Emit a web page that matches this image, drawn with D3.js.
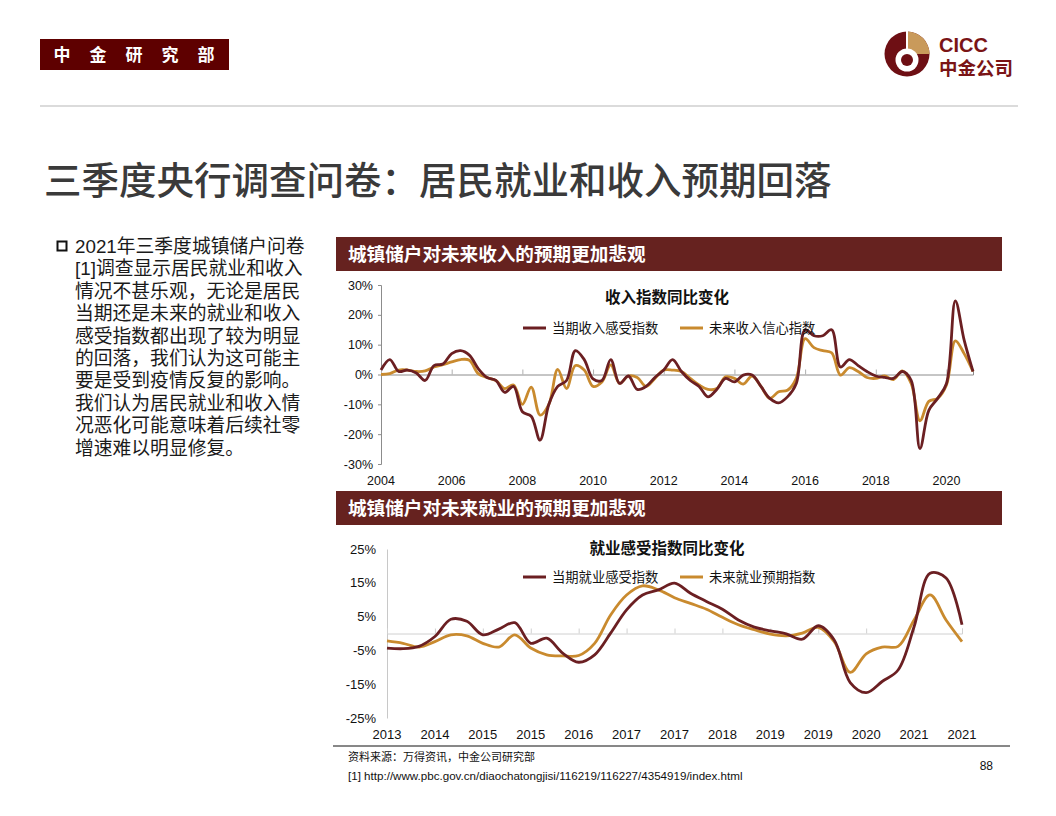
<!DOCTYPE html>
<html>
<head>
<meta charset="utf-8">
<script src="https://cdn.jsdelivr.net/npm/d3@7"></script>
<style>
  body { margin: 0; background: #fff; }
  svg { font-family: "Liberation Sans", Arial, "Noto Sans CJK SC", sans-serif; }
</style>
</head>
<body>
<svg id="page" width="1056" height="816"></svg>
<script>
// ---- datos ----
//收入：季度，2004Q1 - 2020Q4
const incomeStart = 2004;
const incomeNow = [
  1.5, 5, 1, 1.5,   0.5, -2, 3, 3.5,   7, 8, 6.5, 2,   -1, -2, -6, -4,
  -12.5, -14, -22, -10,   -4, -2, 8, 5,   -1.5, -2, 5, -3,   -0.5, -5, -4, -1,
  1.5, 5, 1, -2,   -4, -7.5, -5, -1.3,   -2.5, -0.2, -0.2, -4,   -8, -9.5, -7.5, -3,
  15, 13, 13, 15,   2.5, 5, 3, 1,   -0.5, -1, -1.3, 1,   -2, -24.8, -12, -8,
  -3, 24.7, 11.5, 1
];
const incomeFuture = [
  0, 0.3, 1.5, 1.5,   1, 1.2, 2.5, 3.3,   4.2, 5, 4.8, 0.3,   -1, -2, -4.7, -3.5,
  -10, -4.2, -13.6, -10,   1.7, -4.7, 3, 1.5,   -4, -2.5, 3.2, -3,   -0.5, -1, -4, -1.3,
  1.5, 1.5, 1, -1.3,   -3.5, -5, -4.7, -0.8,   -1.3, -3.2, -0.5, -4,   -8, -5.8, -5.3, -1.3,
  12, 9, 8, 7.3,   -0.2, 2.3, 1, -1,   -1.3, -0.5, -1.7, 1.2,   -3, -15.5, -9, -8,
  -3.5, 11.3, 7, 1
];
const incomeYears = [2004, 2006, 2008, 2010, 2012, 2014, 2016, 2018, 2020];
const incomeTicks = [-30, -20, -10, 0, 10, 20, 30];

// 就业：季度
const jobNow = [
  -4.3, -4.5, -3.8, -0.9, 4.2, 3.6, -0.4, 1.3, 3.2, -2.9, -1.4, -5.8, -8.5,
  -6.3, 0.1, 7, 11.4, 12.9, 14.9, 11.9, 9.5, 7.2, 4, 1.9, 0.8, -0.1, -1.7,
  2.3, -1.9, -14.5, -17.5, -14.2, -10.8, 2, 17.8, 16.4, 2.6
];
const jobFuture = [
  -2.2, -2.9, -4, -2.4, -0.4, -0.7, -2.9, -4, -0.4, -4.3, -6.3, -6.6, -6.5,
  -2.9, 5.5, 11.4, 14.1, 12.9, 10.6, 8.9, 7.2, 4.8, 2.6, 1.1, -0.2, -0.7, 0.1,
  1.8, -2.4, -11.5, -6, -4, -3.8, 4, 11.4, 4, -2.4
];
const jobLabels = ["2013", "2014", "2015", "2015", "2016", "2017", "2017",
  "2018", "2019", "2019", "2020", "2021", "2021"];
const jobTicks = [-25, -15, -5, 5, 15, 25];

const bulletLines = [
  "2021年三季度城镇储户问卷",
  "[1]调查显示居民就业和收入",
  "情况不甚乐观，无论是居民",
  "当期还是未来的就业和收入",
  "感受指数都出现了较为明显",
  "的回落，我们认为这可能主",
  "要是受到疫情反复的影响。",
  "我们认为居民就业和收入情",
  "况恶化可能意味着后续社零",
  "增速难以明显修复。"
];

const darkRed = "#6b1f22";
const gold = "#c98a2e";
const barRed = "#66221f";

const svg = d3.select("#page");

// ---- cabecera ----
svg.append("rect").attr("x", 40).attr("y", 39).attr("width", 189).attr("height", 31).attr("fill", "#5e0000");
["中", "金", "研", "究", "部"].forEach((c, i) => {
    svg.append("text")
        .attr("x", 62 + i * 36).attr("y", 61)
        .attr("text-anchor", "middle")
        .attr("fill", "#fff").attr("font-size", 17).attr("font-weight", "bold")
        .attr("font-family", "Noto Sans CJK SC")
        .text(c);
});

// logo
const logo = svg.append("g").attr("transform", "translate(907,54)");
logo.append("circle").attr("r", 22.5).attr("fill", "#6e0f14");
logo.append("path")
    .attr("d", d3.arc().innerRadius(0).outerRadius(22.5).startAngle(0).endAngle(Math.PI / 2)())
    .attr("fill", "#c99a5b");
logo.append("line").attr("x1", 0).attr("y1", -23).attr("x2", 0).attr("y2", 0)
    .attr("stroke", "#fff").attr("stroke-width", 2);
logo.append("circle").attr("cy", 6).attr("r", 11.5).attr("fill", "#fff");
logo.append("circle").attr("cy", 6).attr("r", 6).attr("fill", "#6e0f14");
svg.append("text").attr("x", 939).attr("y", 52)
    .attr("fill", "#7a1416").attr("font-size", 20).attr("font-weight", "bold")
    .text("CICC");
svg.append("text").attr("x", 939).attr("y", 75)
    .attr("fill", "#7a1416").attr("font-size", 18.5).attr("font-weight", "bold")
    .attr("font-family", "Noto Sans CJK SC")
    .text("中金公司");

svg.append("line").attr("x1", 40).attr("x2", 1018).attr("y1", 106).attr("y2", 106)
    .attr("stroke", "#cfcfcf").attr("stroke-width", 1.5);

// titulo
svg.append("text").attr("x", 44).attr("y", 194)
    .attr("fill", "#3a3a3a").attr("font-size", 37.5).attr("font-weight", 500)
    .attr("font-family", "Noto Sans CJK SC")
    .text("三季度央行调查问卷：居民就业和收入预期回落");

// texto de la izquierda
svg.append("rect").attr("x", 57.5).attr("y", 241.5).attr("width", 9).attr("height", 9)
    .attr("fill", "none").attr("stroke", "#111").attr("stroke-width", 2);
svg.selectAll(".bullet")
    .data(bulletLines)
    .enter()
    .append("text")
    .attr("class", "bullet")
    .attr("x", 75)
    .attr("y", (d, i) => 253 + i * 22.4)
    .attr("fill", "#1a1a1a").attr("font-size", 18.8)
    .text(d => d);

// barras de titulo
function banner(y, label) {
    svg.append("rect").attr("x", 336).attr("y", y).attr("width", 666).attr("height", 34).attr("fill", barRed);
    svg.append("text").attr("x", 348).attr("y", y + 24)
        .attr("fill", "#fff").attr("font-size", 18.6).attr("font-weight", "bold")
        .attr("font-family", "Noto Sans CJK SC")
        .text(label);
}
banner(237, "城镇储户对未来收入的预期更加悲观");
banner(491, "城镇储户对未来就业的预期更加悲观");

function legend(y, names) {
    [darkRed, gold].forEach((col, i) => {
        const x0 = 523 + i * 157;
        svg.append("line").attr("x1", x0).attr("x2", x0 + 23).attr("y1", y).attr("y2", y)
            .attr("stroke", col).attr("stroke-width", 3);
        svg.append("text").attr("x", x0 + 29).attr("y", y + 5)
            .attr("font-size", 13.3).attr("fill", "#111")
            .attr("font-family", "Noto Sans CJK SC")
            .text(names[i]);
    });
}

// ---- grafico 1: ingresos ----
const x1 = d3.scaleLinear().domain([2004, 2020.75]).range([381, 973]);
const y1 = d3.scaleLinear().domain([-30, 30]).range([464, 285]);

svg.append("g")
    .attr("transform", "translate(381,0)")
    .call(d3.axisLeft(y1).tickValues(incomeTicks).tickSize(3).tickFormat(d => d + "%"))
    .call(g => g.select(".domain").attr("stroke", "#8c8c8c"))
    .call(g => g.selectAll(".tick line").attr("stroke", "#8c8c8c"))
    .call(g => g.selectAll("text").attr("font-size", 12.5).attr("fill", "#111").attr("x", -8).attr("font-family", "Liberation Sans, Arial"));

svg.append("g")
    .attr("transform", `translate(0,${y1(0)})`)
    .call(d3.axisTop(x1).tickValues(incomeYears).tickSize(5).tickFormat(""))
    .call(g => g.select(".domain").attr("stroke", "#8c8c8c"))
    .call(g => g.selectAll(".tick line").attr("stroke", "#b0b0b0"));

svg.selectAll(".xl1")
    .data(incomeYears)
    .enter()
    .append("text")
    .attr("class", "xl1")
    .attr("x", d => x1(d)).attr("y", 485)
    .attr("text-anchor", "middle").attr("font-size", 12.5).attr("fill", "#111")
    .text(d => d);

const line1 = d3.line()
    .x((d, i) => x1(incomeStart + i * 0.25))
    .y(d => y1(d))
    .curve(d3.curveCatmullRom);

svg.append("path").datum(incomeFuture).attr("d", line1)
    .attr("fill", "none").attr("stroke", gold).attr("stroke-width", 2.8);
svg.append("path").datum(incomeNow).attr("d", line1)
    .attr("fill", "none").attr("stroke", darkRed).attr("stroke-width", 2.8);

svg.append("text").attr("x", 667).attr("y", 303).attr("text-anchor", "middle")
    .attr("font-size", 15.5).attr("font-weight", "bold").attr("fill", "#111")
    .attr("font-family", "Noto Sans CJK SC")
    .text("收入指数同比变化");
legend(328, ["当期收入感受指数", "未来收入信心指数"]);

// ---- grafico 2: empleo ----
const x2 = d3.scaleLinear().domain([0, jobNow.length - 1]).range([387, 962]);
const y2 = d3.scaleLinear().domain([-25, 25]).range([718, 549]);

svg.append("g")
    .attr("transform", "translate(387,0)")
    .call(d3.axisLeft(y2).tickValues(jobTicks).tickSize(0).tickFormat(d => d + "%"))
    .call(g => g.select(".domain").attr("stroke", "#c8c8c8"))
    .call(g => g.selectAll("text").attr("font-size", 13).attr("fill", "#111").attr("x", -11));

const jobTickIdx = jobLabels.map((d, i) => i * 3);
svg.append("g")
    .attr("transform", `translate(0,${y2(0)})`)
    .call(d3.axisTop(x2).tickValues(jobTickIdx).tickSize(5).tickFormat(""))
    .call(g => g.select(".domain").attr("stroke", "#d0d0d0"))
    .call(g => g.selectAll(".tick line").attr("stroke", "#d0d0d0"));

svg.selectAll(".xl2")
    .data(jobLabels)
    .enter()
    .append("text")
    .attr("class", "xl2")
    .attr("x", (d, i) => x2(i * 3)).attr("y", 739)
    .attr("text-anchor", "middle").attr("font-size", 13).attr("fill", "#111")
    .text(d => d);

const line2 = d3.line()
    .x((d, i) => x2(i))
    .y(d => y2(d))
    .curve(d3.curveCatmullRom);

svg.append("path").datum(jobFuture).attr("d", line2)
    .attr("fill", "none").attr("stroke", gold).attr("stroke-width", 2.8);
svg.append("path").datum(jobNow).attr("d", line2)
    .attr("fill", "none").attr("stroke", darkRed).attr("stroke-width", 2.8);

svg.append("text").attr("x", 667).attr("y", 554).attr("text-anchor", "middle")
    .attr("font-size", 15.5).attr("font-weight", "bold").attr("fill", "#111")
    .attr("font-family", "Noto Sans CJK SC")
    .text("就业感受指数同比变化");
legend(577, ["当期就业感受指数", "未来就业预期指数"]);

// ---- pie ----
svg.append("line").attr("x1", 333).attr("x2", 1010).attr("y1", 746).attr("y2", 746)
    .attr("stroke", "#111").attr("stroke-width", 1);
svg.append("text").attr("x", 348).attr("y", 761)
    .attr("font-size", 11).attr("fill", "#111").attr("font-family", "Noto Sans CJK SC")
    .text("资料来源：万得资讯，中金公司研究部");
svg.append("text").attr("x", 348).attr("y", 780)
    .attr("font-size", 11.6).attr("fill", "#111")
    .text("[1] http://www.pbc.gov.cn/diaochatongjisi/116219/116227/4354919/index.html");
svg.append("text").attr("x", 993).attr("y", 770).attr("text-anchor", "end")
    .attr("font-size", 12).attr("fill", "#111")
    .text("88");
</script>
</body>
</html>
